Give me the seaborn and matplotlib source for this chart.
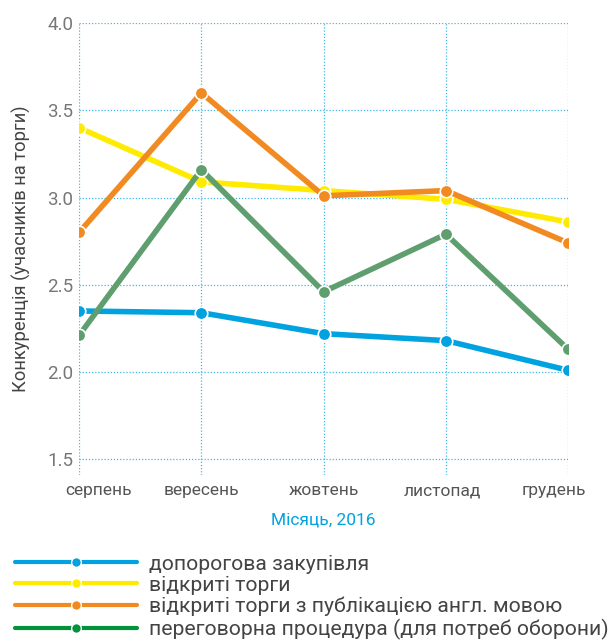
import pandas as pd
import matplotlib
matplotlib.use("Agg")
import matplotlib.pyplot as plt
import matplotlib.transforms as mtransforms
import seaborn as sns
from matplotlib.lines import Line2D

months = ["серпень", "вересень", "жовтень", "листопад", "грудень"]
below_threshold = [2.35, 2.34, 2.22, 2.18, 2.01]
open_tender = [3.40, 3.09, 3.04, 2.99, 2.86]
open_tender_eng = [2.80, 3.60, 3.01, 3.04, 2.74]
negotiation = [2.21, 3.16, 2.46, 2.79, 2.13]

series_names = [
    "допорогова закупівля",
    "відкриті торги",
    "відкриті торги з публікацією англ. мовою",
    "переговорна процедура (для потреб оборони)",
]
line_colors = ["#00a3e0", "#ffeb00", "#f28a22", "#5f9e6e"]
legend_colors = ["#00a3e0", "#ffeb00", "#f28a22", "#00933c"]

rows = []
for name, vals in zip(series_names, [below_threshold, open_tender, open_tender_eng, negotiation]):
    for i, v in enumerate(vals):
        rows.append({"month": i, "value": v, "series": name})
df = pd.DataFrame(rows)

sns.set_style("white")
plt.rcParams["font.family"] = ["Roboto", "DejaVu Sans"]

fig = plt.figure(figsize=(6.13, 6.41), dpi=100)
ax = fig.add_axes([0.129, 0.259, 0.798, 0.705])

sns.lineplot(data=df, x="month", y="value", hue="series", palette=line_colors,
             marker="o", markersize=9, markeredgecolor="white", markeredgewidth=1.2,
             linewidth=4, legend=False, ax=ax, zorder=3)

ax.set_xlim(0, 4)
ax.set_ylim(1.41, 4.0)
ax.set_yticks([1.5, 2.0, 2.5, 3.0, 3.5, 4.0])
ax.set_xticks(range(5))
ax.set_xticklabels(months)
ax.grid(True, color="#3fb8e6", linestyle=(0, (1, 1.5)), linewidth=0.9)
for s in ax.spines.values():
    s.set_visible(False)
ax.tick_params(axis="x", length=0, labelsize=12.5, labelcolor="#555555", pad=6)
ax.tick_params(axis="y", length=0, labelsize=13.5, labelcolor="#777777", pad=4)
ax.set_xlabel("Місяць, 2016", color="#00a3e0", fontsize=12.5, labelpad=10)
ax.set_ylabel("Конкуренція (учасників на торги)", color="#444444", fontsize=13.2, labelpad=12)

# nudge the outer month labels inward, like the original
shifts = [0.19, 0, 0, -0.04, -0.14]
for lbl, dx in zip(ax.get_xticklabels(), shifts):
    lbl.set_transform(lbl.get_transform() + mtransforms.ScaledTranslation(dx, 0, fig.dpi_scale_trans))

handles = [Line2D([], [], color=c, linewidth=3, marker="o", markersize=7,
                  markeredgecolor="white", markeredgewidth=1) for c in legend_colors]
fig.legend(handles, series_names, loc="lower left", bbox_to_anchor=(0.01, -0.011),
           frameon=False, fontsize=15.2, handlelength=5.8, handletextpad=0.55,
           labelspacing=0.1, numpoints=1, labelcolor="#444444", borderaxespad=0.0)

fig.savefig("out.png", dpi=100)
